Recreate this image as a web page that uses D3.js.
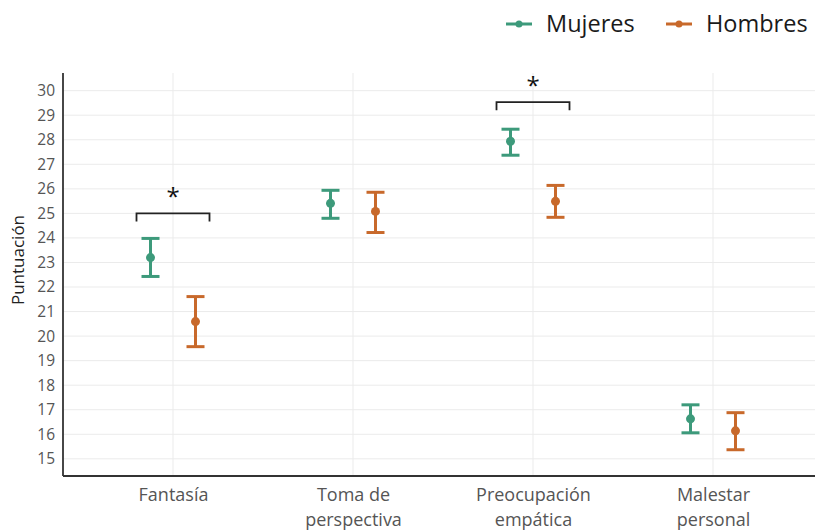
<!DOCTYPE html>
<html><head><meta charset="utf-8">
<script src="https://cdn.jsdelivr.net/npm/d3@7"></script>
<style>body{margin:0;background:#fff}svg{display:block}</style>
</head><body>
<svg id="c" width="815" height="530"></svg>
<script>
const categories = ["Fantasía", "Toma de\nperspectiva", "Preocupación\nempática", "Malestar\npersonal"];
const groups = ["Mujeres", "Hombres"];
const mujeresMean = [23.2, 25.41, 27.94, 16.63];
const mujeresLow  = [22.43, 24.8, 27.37, 16.06];
const mujeresHigh = [23.98, 25.94, 28.43, 17.2];
const hombresMean = [20.59, 25.08, 25.49, 16.14];
const hombresLow  = [19.57, 24.22, 24.84, 15.37];
const hombresHigh = [21.61, 25.86, 26.14, 16.88];
const yTicks = [15,16,17,18,19,20,21,22,23,24,25,26,27,28,29,30];
const brackets = [{cat: 0, y: 25.0, label: "*"}, {cat: 2, y: 29.53, label: "*"}];
const colors = {Mujeres: "#3d9a7b", Hombres: "#c8692b"};

(function(){
const svg = d3.select("#c");
const pLeft = 63, pBottom = 476, pTop = 73, pRight = 821;
const font = "'Open Sans', sans-serif";

const y = d3.scaleLinear().domain([14.3, 30.72]).range([pBottom, pTop]);
const x = d3.scalePoint().domain(d3.range(categories.length)).range([173, 713]);
const dodge = d3.scalePoint().domain(groups).range([-22.5, 22.5]);

// gridlines
svg.append("g").selectAll("line").data(yTicks).join("line")
  .attr("x1", pLeft).attr("x2", pRight).attr("y1", d => y(d)).attr("y2", d => y(d))
  .attr("stroke", "#ebebeb").attr("stroke-width", 1);
svg.append("g").selectAll("line").data(d3.range(categories.length)).join("line")
  .attr("x1", d => x(d)).attr("x2", d => x(d)).attr("y1", pTop).attr("y2", pBottom)
  .attr("stroke", "#ebebeb").attr("stroke-width", 1);

// axes
const yAxis = d3.axisLeft(y).tickValues(yTicks).tickSize(0).tickPadding(8);
const gy = svg.append("g").attr("transform", `translate(${pLeft},0)`).call(yAxis);
gy.select(".domain").remove();
gy.selectAll("text").attr("font-family", font).attr("font-size", 15.5).attr("fill", "#555");

const xAxis = d3.axisBottom(x).tickSize(0).tickFormat(() => "");
const gx = svg.append("g").attr("transform", `translate(0,${pBottom})`).call(xAxis);
gx.select(".domain").remove();
gx.selectAll(".tick text").each(function(d) {
  const t = d3.select(this).attr("font-family", font).attr("font-size", 18).attr("fill", "#555").attr("y", 0).attr("dy", null);
  categories[d].split("\n").forEach((line, i) => {
    t.append("tspan").attr("x", 0).attr("y", 25 + i * 24.5).text(line);
  });
});

svg.append("line").attr("x1", pLeft).attr("x2", pLeft).attr("y1", pTop).attr("y2", pBottom)
  .attr("stroke", "#333").attr("stroke-width", 1.8);
svg.append("line").attr("x1", pLeft).attr("x2", 815).attr("y1", pBottom).attr("y2", pBottom)
  .attr("stroke", "#333").attr("stroke-width", 1.8);

svg.append("text").attr("transform", `translate(24,260) rotate(-90)`)
  .attr("text-anchor", "middle").attr("font-family", font).attr("font-size", 17).attr("fill", "#222")
  .text("Puntuación");

// data
const data = [];
categories.forEach((c, i) => {
  data.push({cat: i, g: "Mujeres", m: mujeresMean[i], lo: mujeresLow[i], hi: mujeresHigh[i]});
  data.push({cat: i, g: "Hombres", m: hombresMean[i], lo: hombresLow[i], hi: hombresHigh[i]});
});
const cap = 9;
const eb = svg.append("g").selectAll("g").data(data).join("g")
  .attr("transform", d => `translate(${x(d.cat) + dodge(d.g)},0)`)
  .attr("stroke", d => colors[d.g]).attr("fill", d => colors[d.g]);
eb.append("line").attr("y1", d => y(d.lo)).attr("y2", d => y(d.hi)).attr("stroke-width", 3);
eb.append("line").attr("x1", -cap).attr("x2", cap).attr("y1", d => y(d.hi)).attr("y2", d => y(d.hi)).attr("stroke-width", 3);
eb.append("line").attr("x1", -cap).attr("x2", cap).attr("y1", d => y(d.lo)).attr("y2", d => y(d.lo)).attr("stroke-width", 3);
eb.append("circle").attr("cy", d => y(d.m)).attr("r", 4.5).attr("stroke", "none");

// significance brackets
const bw = 36.5, tickLen = 8;
const br = svg.append("g").selectAll("g").data(brackets).join("g")
  .attr("transform", d => `translate(${x(d.cat)},0)`);
br.append("path").attr("fill", "none").attr("stroke", "#222").attr("stroke-width", 1.8)
  .attr("d", d => `M${-bw},${y(d.y) + tickLen}V${y(d.y)}H${bw}V${y(d.y) + tickLen}`);
br.append("text").attr("text-anchor", "middle").attr("y", d => y(d.y) - 8)
  .attr("font-family", font).attr("font-size", 24).attr("fill", "#111").text(d => d.label);

// legend
const lg = svg.append("g").attr("transform", "translate(0,24)");
const legendItems = [{g: "Mujeres", x: 506}, {g: "Hombres", x: 666}];
const li = lg.selectAll("g").data(legendItems).join("g").attr("transform", d => `translate(${d.x},0)`);
li.append("line").attr("x1", 0).attr("x2", 26).attr("stroke", d => colors[d.g]).attr("stroke-width", 3);
li.append("circle").attr("cx", 13).attr("r", 3.5).attr("fill", d => colors[d.g]);
li.append("text").attr("x", 40).attr("dy", "0.36em").attr("font-family", font).attr("font-size", 23.5)
  .attr("fill", "#1a1a1a").text(d => d.g);
})();
</script>
</body></html>
